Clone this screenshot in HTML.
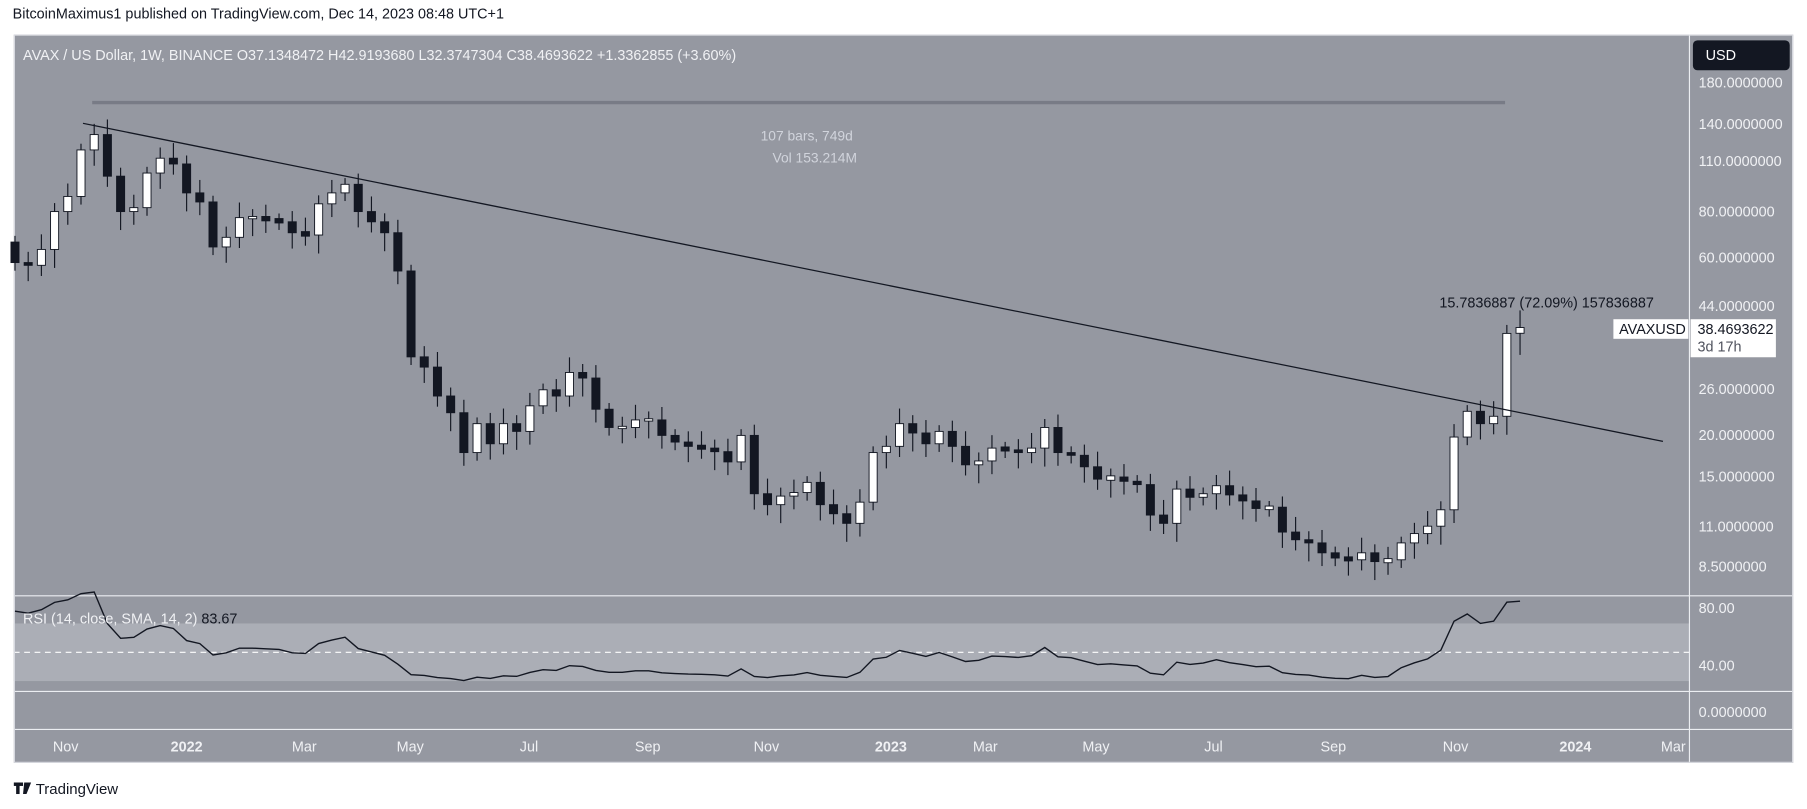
<!DOCTYPE html>
<html><head><meta charset="utf-8"><style>
html,body{margin:0;padding:0;background:#fff;width:1807px;height:809px;overflow:hidden}
svg{display:block}
text{font-family:"Liberation Sans",sans-serif}
</style></head><body>
<svg id="s" width="1807" height="809" viewBox="0 0 1568 702" preserveAspectRatio="none" xmlns="http://www.w3.org/2000/svg">
<rect x="0" y="0" width="1568" height="702" fill="#fff"/>
<text x="11" y="16" font-size="12.5" fill="#131722">BitcoinMaximus1 published on TradingView.com, Dec 14, 2023 08:48 UTC+1</text>
<rect x="12" y="30" width="1544" height="632" fill="#9598a1"/>
<rect x="12" y="541" width="1454" height="50" fill="#abaeb6"/>
<line x1="12" y1="566" x2="1466" y2="566" stroke="#fff" stroke-dasharray="5,4" stroke-width="1"/>
<line x1="12" y1="517" x2="1556" y2="517" stroke="#eceef2" stroke-width="1"/>
<line x1="12" y1="600" x2="1556" y2="600" stroke="#eceef2" stroke-width="1"/>
<line x1="12" y1="633" x2="1556" y2="633" stroke="#eceef2" stroke-width="1"/>
<line x1="1466" y1="30" x2="1466" y2="662" stroke="#eceef2" stroke-width="1"/>
<rect x="12.5" y="30.5" width="1543" height="631" fill="none" stroke="#d8dae0" stroke-width="1"/>
<text x="20" y="52" font-size="12.5" fill="#f0f1f4">AVAX / US Dollar, 1W, BINANCE  O37.1348472  H42.9193680  L32.3747304  C38.4693622  +1.3362855 (+3.60%)</text>
<line x1="80" y1="89" x2="1306" y2="89" stroke="#787b86" stroke-width="3"/>
<text x="700" y="122" font-size="12" fill="#d1d4dc" text-anchor="middle">107 bars, 749d</text>
<text x="707" y="141" font-size="12" fill="#d1d4dc" text-anchor="middle">Vol 153.214M</text>
<g id="candles"></g>
<line x1="72" y1="107" x2="1443" y2="383" stroke="#131722" stroke-width="1.1"/>
<polyline id="rsi" fill="none" stroke="#131722" stroke-width="1.2"/>
<text x="1249" y="267" font-size="12.5" fill="#131722">15.7836887 (72.09%) 157836887</text>
<rect x="1400" y="277" width="65" height="17" fill="#fff"/>
<text x="1405" y="290" font-size="12.5" fill="#131722">AVAXUSD</text>
<rect x="1467" y="277" width="74" height="33" fill="#fff"/>
<text x="1473" y="290" font-size="12.5" fill="#131722">38.4693622</text>
<text x="1473" y="305" font-size="12.5" fill="#50535e">3d 17h</text>
<rect x="1469" y="35" width="84" height="26" rx="4" fill="#131722"/>
<text x="1480" y="52" font-size="12.5" fill="#fff">USD</text>
<g font-size="12.5" fill="#f0f1f4">
<text x="1474" y="76">180.0000000</text>
<text x="1474" y="112">140.0000000</text>
<text x="1474" y="144">110.0000000</text>
<text x="1474" y="188">80.0000000</text>
<text x="1474" y="228">60.0000000</text>
<text x="1474" y="270">44.0000000</text>
<text x="1474" y="342">26.0000000</text>
<text x="1474" y="382">20.0000000</text>
<text x="1474" y="418">15.0000000</text>
<text x="1474" y="461">11.0000000</text>
<text x="1474" y="496">8.5000000</text>
<text x="1474" y="532">80.00</text>
<text x="1474" y="582">40.00</text>
<text x="1474" y="622">0.0000000</text>
</g>
<text x="20" y="541" font-size="12.5" fill="#f0f1f4">RSI (14, close, SMA, 14, 2) <tspan fill="#131722">83.67</tspan></text>
<g font-size="12.5" fill="#f0f1f4" text-anchor="middle">
<text x="57" y="652">Nov</text><text x="162" y="652" font-weight="bold">2022</text><text x="264" y="652">Mar</text>
<text x="356" y="652">May</text><text x="459" y="652">Jul</text><text x="562" y="652">Sep</text>
<text x="665" y="652">Nov</text><text x="773" y="652" font-weight="bold">2023</text><text x="855" y="652">Mar</text>
<text x="951" y="652">May</text><text x="1053" y="652">Jul</text><text x="1157" y="652">Sep</text>
<text x="1263" y="652">Nov</text><text x="1367" y="652" font-weight="bold">2024</text><text x="1452" y="652">Mar</text>
</g>
<g fill="#131722"><rect x="12" y="679" width="8" height="3"/><rect x="14" y="679" width="3" height="10"/><path d="M21 679 h6 l-4 10 h-3 z"/></g>
<text x="31" y="689" font-size="13" fill="#131722">TradingView</text>
</svg>
<script>
var c=[58,57,63,80,88,118,130,100,80,82,102,112,108,90,85,64,68,77,77,76,75,70,69,84,90,95,80,75,70,55,32,30,25,22.5,17.5,21,18.5,21,20,23.5,26,25,29,28,23,20.5,20.5,21.5,21.5,19.5,18.7,18.2,18.0,17.6,16.5,19.5,13.5,12.6,13.3,13.6,14.5,12.6,11.9,11.2,12.8,17.5,18.2,21,19.8,18.5,20,18.2,16.2,16.6,18,17.8,17.5,18,20.5,17.5,17.2,16,14.8,15,14.6,14.3,11.8,11.2,13.9,13.2,13.5,14.2,13.4,12.9,12.3,12.4,10.6,10.1,9.9,9.3,9.0,8.9,9.3,8.8,8.9,9.9,10.5,11,12.2,19.3,22.7,21,22,37.1,38.5];
function Y(p){return 72+137.6*Math.log(180/p);}
var n=c.length,sp=(1319-13)/(n-1),h='';
var prev=66;
for(var i=0;i<n;i++){
 var o=(i==n-1)?37.13:prev,cl=c[i],x=13+i*sp;
 var hi=Math.max(o,cl)*(1.04+0.06*((i*7)%5)/4),lo=Math.min(o,cl)*(0.95-0.06*((i*3)%5)/4);
 if(i==n-1){hi=42.9;lo=32.4;}
 var yh=Y(hi),yl=Y(lo),yt=Y(Math.max(o,cl)),yb=Y(Math.min(o,cl));
 if(yb-yt<2){yt-=1;yb+=1;}
 var up=cl>=o;
 h+='<line x1="'+x+'" y1="'+yh+'" x2="'+x+'" y2="'+yl+'" stroke="#131722" stroke-width="1"/>';
 h+='<rect x="'+(x-3.5)+'" y="'+yt+'" width="7" height="'+(yb-yt)+'" fill="'+(up?'#fff':'#131722')+'" stroke="#131722" stroke-width="0.8"/>';
 prev=cl;
}
document.getElementById('candles').innerHTML=h;
var w=[20,24,28,33,38,44,50,55,58,56,60,62,66,60,58,62];var all=w.concat(c);
var ag=0,al=0,r=[];
for(var k=1;k<all.length;k++){var d=all[k]-all[k-1],g=Math.max(d,0),l=Math.max(-d,0);
 if(k<=14){ag+=g/14;al+=l/14;}else{ag=(ag*13+g)/14;al=(al*13+l)/14;}
 if(k>=w.length){var rs=al==0?100:100-100/(1+ag/al);r.push(rs);}}
var pts=[];for(var i=0;i<n;i++){pts.push((13+i*sp)+','+(628-1.25*r[i]));}
document.getElementById('rsi').setAttribute('points',pts.join(' '));
</script>
</body></html>
